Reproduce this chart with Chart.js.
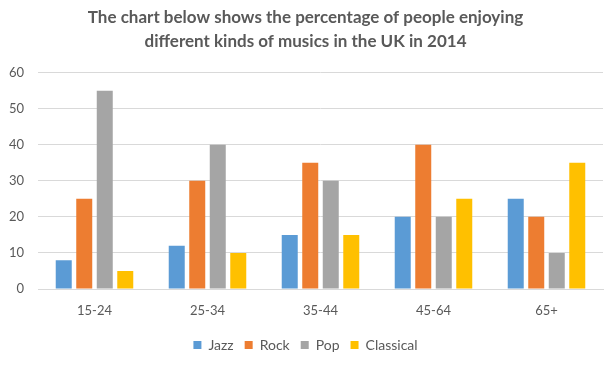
<!DOCTYPE html>
<html><head><meta charset="utf-8">
<script src="https://cdn.jsdelivr.net/npm/chart.js@4/dist/chart.umd.min.js"></script>
<style>html,body{margin:0;padding:0;background:#fff}#w{width:612px;height:373px}</style>
</head><body><div id="w"><canvas id="c"></canvas></div>
<script>
const categories = ["15-24", "25-34", "35-44", "45-64", "65+"];
const jazz = [8, 12, 15, 20, 25];
const rock = [25, 30, 35, 40, 20];
const pop = [55, 40, 30, 20, 10];
const classical = [5, 10, 15, 25, 35];
const yTicks = [0, 10, 20, 30, 40, 50, 60];
const titleLines = ["The chart below shows the percentage of people enjoying", "different kinds of musics in the UK in 2014"];

const txt = "#595959";
const FONT = "Lato, 'Open Sans', sans-serif";
new Chart(document.getElementById("c"), {
  type: "bar",
  data: {
    labels: categories,
    datasets: [
      {label: "Jazz", data: jazz, backgroundColor: "#5B9BD5"},
      {label: "Rock", data: rock, backgroundColor: "#ED7D31"},
      {label: "Pop", data: pop, backgroundColor: "#A5A5A5"},
      {label: "Classical", data: classical, backgroundColor: "#FFC000"}
    ]
  },
  options: {
    responsive: true, maintainAspectRatio: false, animation: false,
    devicePixelRatio: 1,
    datasets: {bar: {categoryPercentage: 0.726, barPercentage: 0.78}},
    layout: {padding: {left: 8, right: 9, top: 0, bottom: 11}},
    plugins: {
      title: {display: true, text: titleLines, color: txt,
        font: {family: FONT, size: 17, weight: "bold", lineHeight: 1.4},
        padding: {top: 6, bottom: 19}},
      legend: {position: "bottom", labels: {color: txt, boxWidth: 8, boxHeight: 8,
        font: {family: FONT, size: 14}, padding: 11}},
      tooltip: {enabled: false}
    },
    scales: {
      x: {grid: {display: false, drawTicks: false},
          border: {display: true, color: "#D9D9D9", width: 1},
          afterFit: (s) => { s.height = 38; },
          ticks: {color: txt, font: {family: FONT, size: 13}, padding: 14}},
      y: {min: 0, max: 60,
          afterBuildTicks: (s) => { s.ticks = yTicks.map(v => ({value: v})); },
          afterFit: (s) => { s.width = 30; },
          grid: {color: "#D9D9D9", drawTicks: false},
          border: {display: false},
          ticks: {color: txt, font: {family: FONT, size: 13}, padding: 14}}
    }
  }
});
</script></body></html>
